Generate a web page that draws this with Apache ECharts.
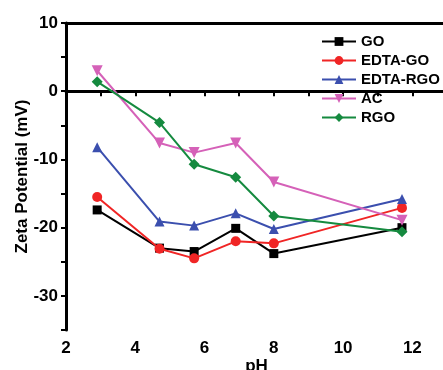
<!DOCTYPE html>
<html><head><meta charset="utf-8">
<script src="https://cdn.jsdelivr.net/npm/echarts@6/dist/echarts.min.js"></script>
<style>html,body{margin:0;padding:0;background:#fff}#c{width:443px;height:370px}</style>
</head><body><div id="c"></div>
<script>
const pH = [2.9, 4.7, 5.7, 6.9, 8.0, 11.7];
const GO = [-17.4, -23.0, -23.5, -20.1, -23.8, -20.0];
const EDTA_GO = [-15.5, -23.1, -24.5, -22.0, -22.3, -17.1];
const EDTA_RGO = [-8.2, -19.1, -19.7, -17.9, -20.2, -15.8];
const AC = [3.0, -7.6, -9.0, -7.6, -13.3, -18.9];
const RGO = [1.4, -4.6, -10.7, -12.6, -18.3, -20.6];
const names = ['GO', 'EDTA-GO', 'EDTA-RGO', 'AC', 'RGO'];
const colors = ['#000000', '#f02525', '#3b4fae', '#d561b8', '#158a3f'];
const symbols = ['rect', 'circle', 'triangle', 'path://M0,0 L10,0 L5,9 Z', 'diamond'];
const sizes = [9, 10, 10, 11, 11];
const vals = [GO, EDTA_GO, EDTA_RGO, AC, RGO];

const font = '"Liberation Sans", Arial, sans-serif';
const series = names.map((n, i) => ({
  name: n, type: 'line', data: pH.map((x, j) => [x, vals[i][j]]),
  symbol: symbols[i], symbolSize: sizes[i], showSymbol: true,
  lineStyle: { color: colors[i], width: 2 },
  itemStyle: { color: colors[i] },
  z: 3 + i
}));
series.push({
  type: 'line', data: [], silent: true,
  markLine: {
    symbol: 'none', silent: true, label: { show: false },
    lineStyle: { color: '#000', width: 1.3, type: [9, 4, 2, 4] },
    data: [[{ coord: [2, 0] }, { coord: [9.35, 0] }]]
  }
});

const chart = echarts.init(document.getElementById('c'), null, { renderer: 'canvas' });
chart.setOption({
  animation: false,
  backgroundColor: '#fff',
  grid: { left: 66, top: 23, bottom: 40, right: -4, containLabel: false, outerBoundsMode: 'none' },
  legend: {
    data: names, orient: 'vertical', left: 321, top: 34, itemGap: 4, padding: 0,
    itemWidth: 34, itemHeight: 11,
    textStyle: { fontFamily: font, fontWeight: 'bold', fontSize: 15, color: '#000' }
  },
  xAxis: [{
    type: 'value', min: 2, max: 13, interval: 1,
    name: 'pH', nameLocation: 'middle', nameGap: 28, nameMoveOverlap: false,
    nameTextStyle: { fontFamily: font, fontWeight: 'bold', fontSize: 17, color: '#000' },
    axisLine: { lineStyle: { color: '#000', width: 3 } },
    axisTick: { length: 5, lineStyle: { color: '#000', width: 2 } },
    axisLabel: { fontFamily: font, fontWeight: 'bold', fontSize: 17, color: '#000', margin: 10,
      formatter: v => (Math.round(v) % 2 === 0 && v <= 12) ? String(v) : '' },
    splitLine: { show: false }
  }, {
    type: 'value', position: 'top', min: 2, max: 13,
    axisLine: { show: true, lineStyle: { color: '#000', width: 3 } },
    axisTick: { show: false }, axisLabel: { show: false }, splitLine: { show: false }
  }],
  yAxis: {
    type: 'value', min: -35, max: 10, interval: 5,
    name: 'Zeta Potential (mV)', nameLocation: 'middle', nameGap: 35, nameMoveOverlap: false,
    nameTextStyle: { fontFamily: font, fontWeight: 'bold', fontSize: 17, color: '#000' },
    axisLine: { show: true, lineStyle: { color: '#000', width: 3 } },
    axisTick: { show: true, length: 5, lineStyle: { color: '#000', width: 2 } },
    axisLabel: { fontFamily: font, fontWeight: 'bold', fontSize: 17, color: '#000', margin: 8,
      formatter: v => (v % 10 === 0) ? String(v) : '' },
    splitLine: { show: false }
  },
  series: series
});
</script></body></html>
